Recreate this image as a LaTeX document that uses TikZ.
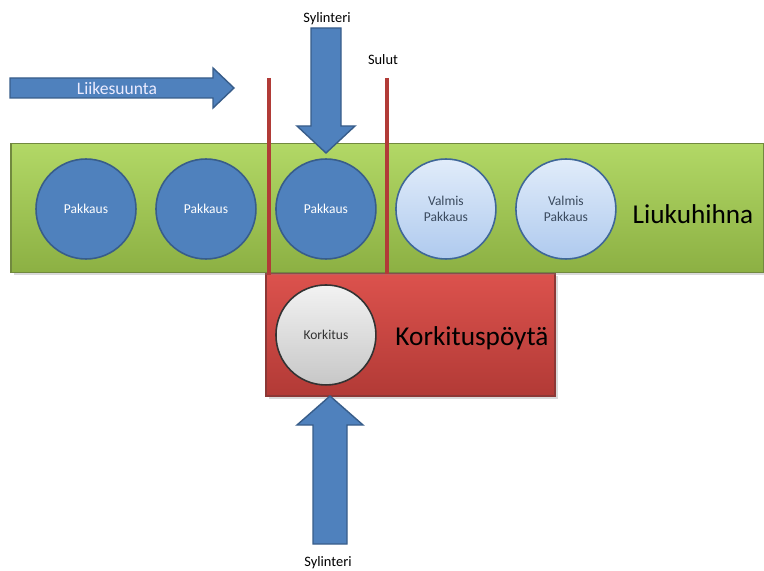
\documentclass[tikz,border=0pt]{standalone}
\usepackage{fontspec}
\setmainfont{Carlito}
\usetikzlibrary{positioning,shadows}
\definecolor{beltTop}{HTML}{B2D866}
\definecolor{beltBot}{HTML}{8CB043}
\definecolor{beltLine}{HTML}{71893F}
\definecolor{pakBlue}{HTML}{4F81BD}
\definecolor{pakLine}{HTML}{385D8A}
\definecolor{valTop}{HTML}{E1ECFA}
\definecolor{valBot}{HTML}{AFCAEE}
\definecolor{valText}{HTML}{3A4A5E}
\definecolor{tableTop}{HTML}{DC524D}
\definecolor{tableBot}{HTML}{B23A36}
\definecolor{tableLine}{HTML}{8C3836}
\definecolor{gateRed}{HTML}{B13B37}

\begin{document}
\begin{tikzpicture}[x=0.02cm, y=-0.02cm,
  node distance = 2.4cm,
  pakkaus/.style = {circle, draw=pakLine, line width=0.9pt, fill=pakBlue, text=white, minimum size=2cm, inner sep=0pt, font=\fontsize{7.7}{9.5}\selectfont},
  valmis/.style  = {pakkaus, draw=pakBlue!80!black, top color=valTop, bottom color=valBot, text=valText, align=center},
  korkki/.style  = {pakkaus, draw=black!80, top color=white!95!black, bottom color=black!22, text=black!80},
  belt/.style    = {rectangle, draw=beltLine, line width=0.8pt, top color=beltTop, bottom color=beltBot, minimum width=15.06cm, minimum height=2.58cm, drop shadow={opacity=0.3, shadow xshift=1.5pt, shadow yshift=-1.5pt}},
  poyta/.style   = {rectangle, draw=tableLine, line width=0.8pt, top color=tableTop, bottom color=tableBot, minimum width=5.78cm, minimum height=2.46cm, drop shadow={opacity=0.3, shadow xshift=1.5pt, shadow yshift=-1.5pt}},
  blockarrow/.style = {fill=pakBlue, draw=pakLine, line width=0.8pt, line join=miter},
  gate/.style    = {draw=gateRed, line width=2.2pt},
  label/.style   = {font=\fontsize{8.2}{10}\selectfont},
  biglabel/.style = {font=\fontsize{15.5}{18}\selectfont},
  ]
  \useasboundingbox (0,0) rectangle (764,571);
  % table and belt
  \node[poyta] (table) at (410.5,334.5) {};
  \node[belt] (belt) at (387.5,208) {};
  % packages on the belt
  \node[pakkaus] (p1) at (86,209) {Pakkaus};
  \node[pakkaus, right of=p1] (p2) {Pakkaus};
  \node[pakkaus, right of=p2] (p3) {Pakkaus};
  \node[valmis, right of=p3] (v1) {Valmis\\Pakkaus};
  \node[valmis, right of=v1] (v2) {Valmis\\Pakkaus};
  \node[korkki, below of=p3, node distance=2.52cm] (korkitus) {Korkitus};
  \node[biglabel] (hihna) at (693,214) {Liukuhihna};
  \node[biglabel] (tableText) at (472,338) {Korkituspöytä};
  % gates
  \draw[gate] (269,78) -- (269,275);
  \draw[gate] (387,78) -- (387,274);
  \node[label] (sulut) at (383,60) {Sulut};
  % block arrows
  \draw[blockarrow] (10,78) -- (213,78) -- (213,68) -- (234,88) -- (213,108) -- (213,98) -- (10,98) -- cycle;
  \node[text=white!92!blue, font=\fontsize{10}{12}\selectfont] (suunta) at (117,88) {Liikesuunta};
  \draw[blockarrow] (311,28) -- (341,28) -- (341,126) -- (355,126) -- (326,153) -- (297,126) -- (311,126) -- cycle;
  \node[label] (sylYla) at (327,19) {Sylinteri};
  \draw[blockarrow] (313,544) -- (347,544) -- (347,425) -- (363,425) -- (330,396) -- (297,425) -- (313,425) -- cycle;
  \node[label] (sylAla) at (328,563) {Sylinteri};
\end{tikzpicture}
\end{document}
